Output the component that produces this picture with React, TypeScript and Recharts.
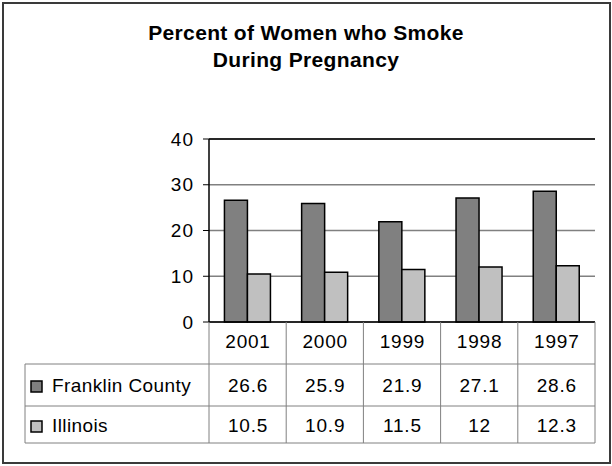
import React from 'react';
import { Bar, BarChart, CartesianGrid, ReferenceLine, XAxis, YAxis } from 'recharts';

const years = ['2001', '2000', '1999', '1998', '1997'];
const franklin = [26.6, 25.9, 21.9, 27.1, 28.6];
const illinois = [10.5, 10.9, 11.5, 12, 12.3];
const yTicks = [0, 10, 20, 30, 40];
const seriesNames = ['Franklin County', 'Illinois'];

const DARK = '#808080';
const LIGHT = '#c0c0c0';
const LINE = '#808080';
const FONT = '"Liberation Sans", Arial, sans-serif';

const data = years.map((y, i) => ({ year: y, franklin: franklin[i], illinois: illinois[i] }));

// table rows under the axis: header 0-42, franklin 42-84, illinois 84-121
const ROW_BASE = [26, 70, 110];
const ROW_LINES = [42, 84, 121];
const TABLE_LEFT = 25;

function TableTick(props: any) {
  const { x, y, index } = props;
  const axisW = props.width ?? 386;
  const bw = axisW / years.length;
  const left = x - bw / 2;
  const right = x + bw / 2;
  const txt = { fontFamily: FONT, fontSize: 19, fill: '#000', textAnchor: 'middle' as const, letterSpacing: 0.8 };
  return (
    <g>
      {index === 0 && (
        <g>
          <line x1={left} x2={left} y1={y} y2={y + ROW_LINES[2]} stroke={LINE} />
          {ROW_LINES.map((d) => (
            <line key={d} x1={TABLE_LEFT} x2={left + axisW} y1={y + d} y2={y + d} stroke={LINE} />
          ))}
          <line x1={TABLE_LEFT} x2={TABLE_LEFT} y1={y + ROW_LINES[0]} y2={y + ROW_LINES[2]} stroke={LINE} />
          {seriesNames.map((n, i) => (
            <g key={n}>
              <rect x={31} y={y + ROW_BASE[i + 1] - 11} width={11} height={11} fill={i === 0 ? DARK : LIGHT} stroke="#000" strokeWidth={1.5} />
              <text x={52} y={y + ROW_BASE[i + 1]} fontFamily={FONT} fontSize={19} letterSpacing={0.4} fill="#000">
                {n}
              </text>
            </g>
          ))}
        </g>
      )}
      <line x1={right} x2={right} y1={y} y2={y + ROW_LINES[2]} stroke={LINE} />
      <text x={x + 0.4} y={y + ROW_BASE[0]} {...txt}>{years[index]}</text>
      <text x={x + 0.4} y={y + ROW_BASE[1]} {...txt}>{franklin[index]}</text>
      <text x={x + 0.4} y={y + ROW_BASE[2]} {...txt}>{illinois[index]}</text>
    </g>
  );
}

export default function App() {
  return (
    <div style={{ position: 'absolute', left: 0, top: 0, width: 612, height: 466, background: '#fff' }}>
      <div
        style={{
          position: 'absolute',
          left: 2,
          top: 2,
          width: 605,
          height: 458,
          border: '2px solid #3a3a3a',
        }}
      />
      <div
        style={{
          position: 'absolute',
          left: 0,
          top: 19,
          width: 612,
          textAlign: 'center',
          fontFamily: FONT,
          fontWeight: 'bold',
          fontSize: 21,
          lineHeight: '27px',
          letterSpacing: 0.35,
          color: '#000',
        }}
      >
        Percent of Women who Smoke
        <br />
        During Pregnancy
      </div>
      <div style={{ position: 'absolute', left: 0, top: 0 }}>
        <BarChart
          width={612}
          height={466}
          data={data}
          margin={{ top: 139, right: 17, bottom: 23, left: 159 }}
          barCategoryGap="20%"
          barGap={0}
        >
          <CartesianGrid vertical={false} stroke={LINE} strokeWidth={1.5} />
          <XAxis
            dataKey="year"
            height={121}
            tickSize={0}
            tickMargin={0}
            tickLine={false}
            axisLine={{ stroke: '#000', strokeWidth: 1.5 }}
            tick={<TableTick />}
            interval={0}
          />
          <YAxis
            domain={[0, 40]}
            ticks={yTicks}
            width={50}
            tickSize={6}
            tickMargin={9}
            axisLine={{ stroke: '#000', strokeWidth: 1.5 }}
            tickLine={{ stroke: '#000' }}
            tick={{ fontFamily: FONT, fontSize: 19, fill: '#000', letterSpacing: 1 }}
          />
          <YAxis
            yAxisId="right"
            orientation="right"
            width={0}
            domain={[0, 40]}
            tick={false}
            tickLine={false}
            axisLine={{ stroke: LINE, strokeWidth: 1.5 }}
          />
          <ReferenceLine y={40} stroke="#000" strokeWidth={1.5} />
          <Bar dataKey="franklin" fill={DARK} stroke="#000" strokeWidth={1.5} isAnimationActive={false} />
          <Bar dataKey="illinois" fill={LIGHT} stroke="#000" strokeWidth={1.5} isAnimationActive={false} />
        </BarChart>
      </div>
    </div>
  );
}
